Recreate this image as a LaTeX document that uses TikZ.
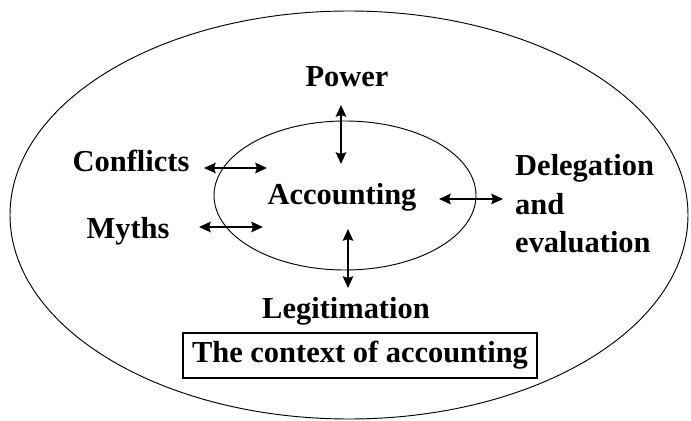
\documentclass[tikz,border=0pt]{standalone}
\usepackage{fontspec}
\setmainfont{Liberation Serif}
\usepackage{tikz}
\usetikzlibrary{arrows.meta, positioning}

\begin{document}
\begin{tikzpicture}[
    x=0.03cm, y=-0.03cm,
    ring/.style={line width=0.8pt, black},
    label/.style={font=\bfseries\fontsize{26}{33}\selectfont, inner sep=0pt},
    link/.style={line width=1.7pt, {Stealth[length=10pt,width=9pt,inset=1.5pt]}-{Stealth[length=10pt,width=9pt,inset=1.5pt]}}
]
\useasboundingbox (0,0) rectangle (691,421);

% Ellipses
\draw[ring] (349,215) ellipse [x radius=339, y radius=204];
\draw[ring] (345,195.5) ellipse [x radius=131, y radius=74.5];

% Labels
\node[label, anchor=base] (acc) at (342,204) {Accounting};
\node[label, anchor=base] (power) at (347,86) {Power};
\node[label, anchor=base] (conf) at (131,171) {Conflicts};
\node[label, anchor=base] (myths) at (128,238) {Myths};
\node[label, anchor=base] (legit) at (346,318) {Legitimation};
\node[label, anchor=north west, align=left] (deleg) at (515,154) {Delegation\\and\\evaluation};
\node[label, draw, line width=1.2pt, minimum width=302pt, minimum height=38.4pt]
    (ctx) at (360,355.5) {The context of accounting};

% Arrow ends
\coordinate (pw1) at (341,105);
\coordinate (pw2) at (341,164);
\coordinate (cf1) at (204,168);
\coordinate (cf2) at (267,168);
\coordinate (my1) at (199,227);
\coordinate (my2) at (263,227);
\coordinate (dl1) at (439,199);
\coordinate (dl2) at (503,199);
\coordinate (lg1) at (348,229);
\coordinate (lg2) at (348,288);

% Arrows
\draw[link] (pw1) -- (pw2);
\draw[link] (cf1) -- (cf2);
\draw[link] (my1) -- (my2);
\draw[link] (dl1) -- (dl2);
\draw[link] (lg1) -- (lg2);

\end{tikzpicture}
\end{document}
